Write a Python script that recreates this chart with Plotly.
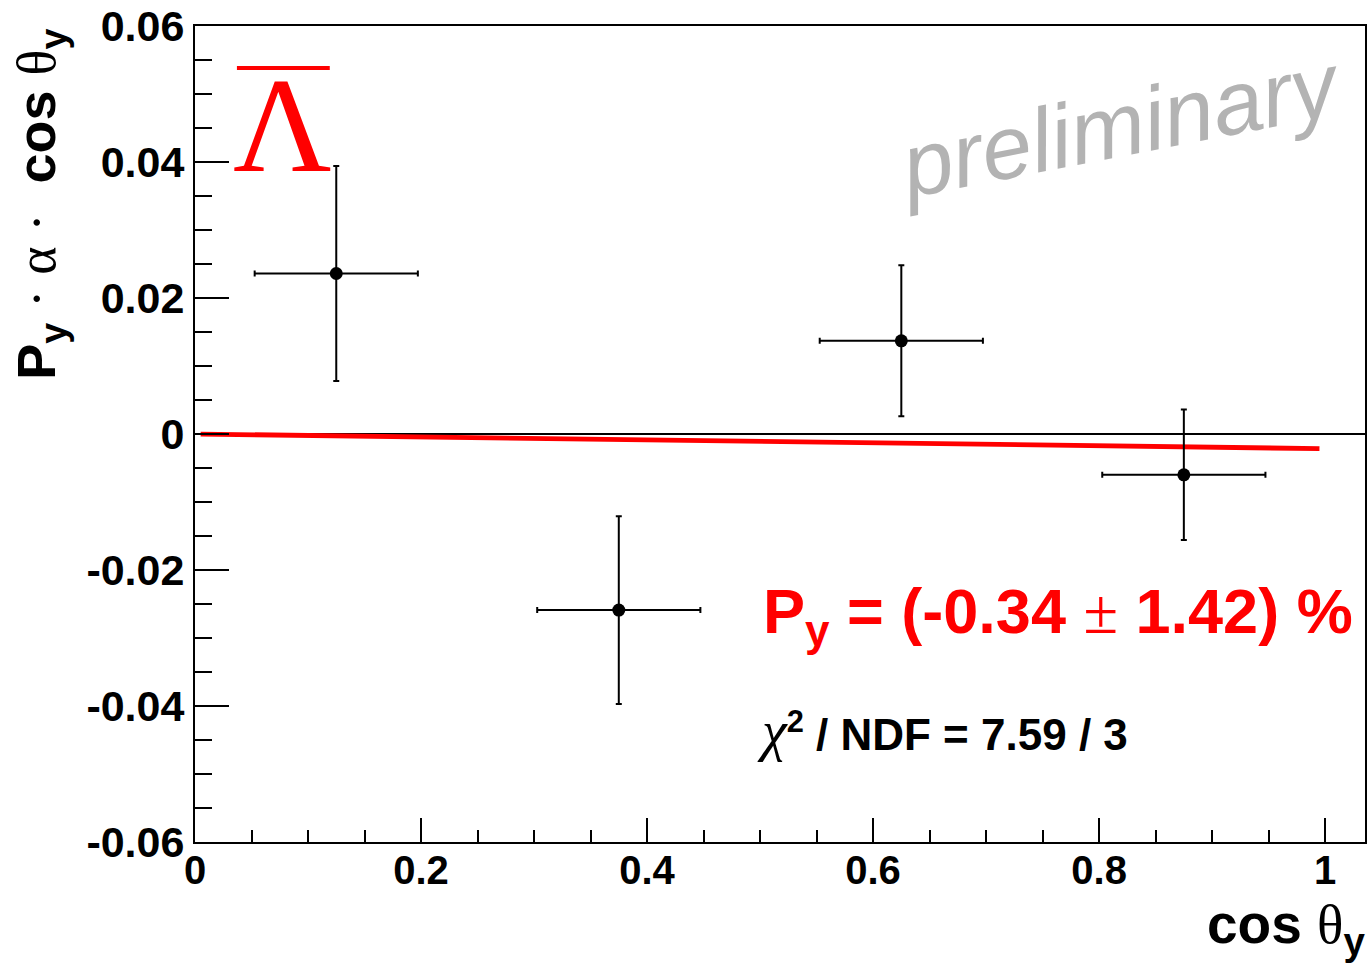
import plotly.graph_objects as go

# ---------------- data ----------------
x_centers = [0.125, 0.375, 0.625, 0.875]
y_values = [0.0236, -0.0259, 0.0137, -0.0060]
y_errors = [0.0158, 0.0138, 0.0111, 0.0096]
x_errors = [0.0722, 0.0722, 0.0722, 0.0722]

fit_x = [0.005, 0.995]
fit_y = [-0.00001, -0.00215]

x_tickvals = [0, 0.2, 0.4, 0.6, 0.8, 1.0]
x_ticktext = ["0", "0.2", "0.4", "0.6", "0.8", "1"]
y_tickvals = [-0.06, -0.04, -0.02, 0, 0.02, 0.04, 0.06]
y_ticktext = ["-0.06", "-0.04", "-0.02", "0", "0.02", "0.04", "0.06"]

# ---------------- layout helpers (pixel -> paper) ----------------
W, H = 1369, 970
L, R, T, B = 195, 2, 26, 128
PW, PH = W - L - R, H - T - B


def px(x):
    return (x - L) / PW


def py(y):
    return (H - B - y) / PH


SANS = "Liberation Sans, Arial, sans-serif"
SERIF = "Liberation Serif, Times New Roman, serif"

fig = go.Figure()

# fit line
fig.add_trace(go.Scatter(
    x=fit_x, y=fit_y, mode="lines",
    line=dict(color="#ff0000", width=4.8),
    hoverinfo="skip",
))

# data points
fig.add_trace(go.Scatter(
    x=x_centers, y=y_values, mode="markers",
    marker=dict(color="black", size=13),
    error_y=dict(type="data", array=y_errors, visible=True,
                 color="black", thickness=2, width=3),
    error_x=dict(type="data", array=x_errors, visible=True,
                 color="black", thickness=2, width=3),
))

fig.update_layout(
    width=W, height=H,
    margin=dict(l=L, r=R, t=T, b=B, pad=0),
    plot_bgcolor="white", paper_bgcolor="white",
    showlegend=False,
    font=dict(family=SANS, color="black"),
)

fig.update_xaxes(
    range=[0, 1.0353],
    tickvals=x_tickvals, ticktext=x_ticktext,
    ticks="inside", ticklen=24, tickwidth=2, tickcolor="black",
    minor=dict(ticks="inside", ticklen=12, tickwidth=2, tickcolor="black",
               dtick=0.05, tick0=0, showgrid=False),
    showline=True, linewidth=2, linecolor="black", mirror=True,
    showgrid=False, zeroline=False,
    tickfont=dict(family=SANS, size=40, color="black", weight="bold"),
    ticklabelstandoff=-8,
)

fig.update_yaxes(
    range=[-0.06, 0.06],
    tickvals=y_tickvals, ticktext=y_ticktext,
    ticks="inside", ticklen=34, tickwidth=2, tickcolor="black",
    minor=dict(ticks="inside", ticklen=17, tickwidth=2, tickcolor="black",
               dtick=0.005, tick0=0, showgrid=False),
    showline=True, linewidth=2, linecolor="black", mirror=True,
    showgrid=False,
    zeroline=True, zerolinecolor="black", zerolinewidth=2,
    tickfont=dict(family=SANS, size=43, color="black", weight="bold"),
    ticklabelstandoff=0,
)


def serif(s):
    return f'<span style="font-family:{SERIF};font-weight:normal">{s}</span>'


annotations = [
    # y-axis title
    dict(text=f"P<sub>y</sub> {serif('·')} {serif('α')} {serif('·')}  cos {serif('θ')}<sub>y</sub>",
         xref="paper", yref="paper", x=px(3), y=py(27),
         xanchor="left", yanchor="top", textangle=-90, showarrow=False,
         font=dict(family=SANS, size=54, color="black", weight="bold")),
    # x-axis title
    dict(text=f"cos {serif('θ')}<sub>y</sub>",
         xref="paper", yref="paper", x=px(1369), y=py(891),
         xanchor="right", yanchor="top", showarrow=False,
         font=dict(family=SANS, size=55, color="black", weight="bold")),
    # anti-lambda
    dict(text="Λ", xref="paper", yref="paper", x=px(283), y=py(125),
         xanchor="center", yanchor="middle", showarrow=False,
         font=dict(family=SERIF, size=136, color="#ff0000")),
    # preliminary
    dict(text="preliminary", xref="paper", yref="paper", x=px(1122), y=py(125),
         xanchor="center", yanchor="middle", textangle=-11, showarrow=False,
         font=dict(family=SANS, size=90, color="#b3b3b3", style="italic")),
    # P_y result
    dict(text=f"P<sub>y</sub> = (-0.34 {serif('±')} 1.42) %",
         xref="paper", yref="paper", x=px(762), y=py(615),
         xanchor="left", yanchor="middle", showarrow=False,
         font=dict(family=SANS, size=63, color="#ff0000", weight="bold")),
    # chi2
    dict(text=f"<span style=\"font-family:{SERIF};font-weight:normal;font-style:italic;font-size:56px\">χ</span><sup>2</sup> / NDF = 7.59 / 3",
         xref="paper", yref="paper", x=px(756), y=py(731),
         xanchor="left", yanchor="middle", showarrow=False,
         font=dict(family=SANS, size=44, color="black", weight="bold")),
]
fig.update_layout(annotations=annotations)

# overline of the anti-lambda
fig.add_shape(type="line", xref="paper", yref="paper",
              x0=px(237), x1=px(330), y0=py(68), y1=py(68),
              line=dict(color="#ff0000", width=4))

fig.write_html(
    "out.html",
    config={"displayModeBar": False},
    post_script="document.body.style.margin='0';document.body.style.padding='0';",
)
